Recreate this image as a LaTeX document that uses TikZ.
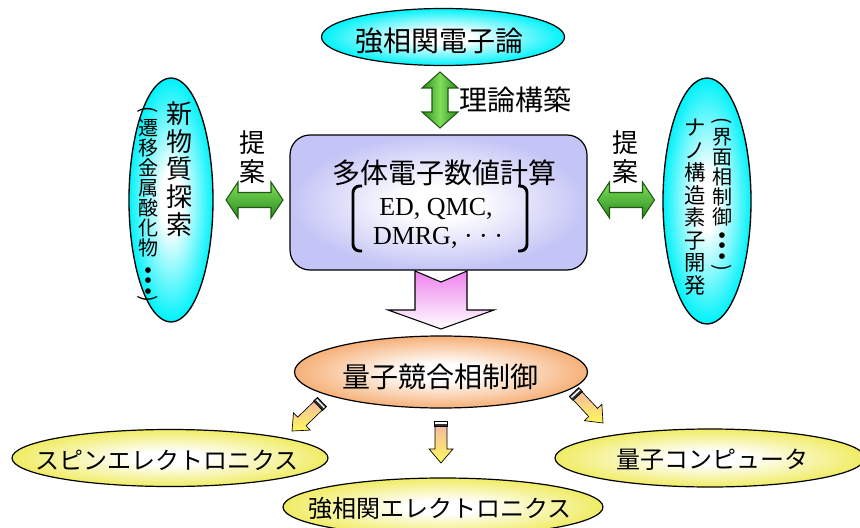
\documentclass[tikz,border=0pt]{standalone}
\usepackage{fontspec}
\setmainfont{Liberation Serif}
\newfontfamily\jp{Noto Sans CJK JP}
\newfontfamily\djv{DejaVu Sans}
\usetikzlibrary{shapes.geometric,calc}
\definecolor{cyanE}{RGB}{0,242,250}
\definecolor{lavE}{RGB}{196,196,246}
\definecolor{orgE}{RGB}{246,176,120}
\definecolor{yelE}{RGB}{240,236,100}
\definecolor{pinkT}{RGB}{238,130,238}
\definecolor{grnL}{RGB}{130,222,90}
\definecolor{grnD}{RGB}{40,140,30}
\definecolor{grnB}{RGB}{30,90,15}
\definecolor{peachS}{RGB}{246,186,160}
\definecolor{yelS}{RGB}{255,250,90}
\definecolor{capD}{RGB}{50,50,50}
\pgfdeclareradialshading{radcyan}{\pgfpoint{0bp}{0bp}}{color(0bp)=(white); color(6bp)=(white); color(25bp)=(cyanE); color(50bp)=(cyanE)}
\pgfdeclareradialshading{radlav}{\pgfpoint{0bp}{0bp}}{color(0bp)=(white); color(6bp)=(white); color(25bp)=(lavE); color(50bp)=(lavE)}
\pgfdeclareradialshading{radorg}{\pgfpoint{0bp}{0bp}}{color(0bp)=(white); color(6bp)=(white); color(25bp)=(orgE); color(50bp)=(orgE)}
\pgfdeclareradialshading{radyel}{\pgfpoint{0bp}{0bp}}{color(0bp)=(white); color(6bp)=(white); color(25bp)=(yelE); color(50bp)=(yelE)}
\newcommand\smallarr[2]{%
  \draw[line width=0.5pt, fill=capD] ($(#1)!4.9pt!90:(#2)$) -- ($(#1)!4.9pt!-90:(#2)$) -- ($($(#1)!4.1pt!(#2)$)!4.9pt!-90:(#2)$) -- ($($(#1)!4.1pt!(#2)$)!4.9pt!90:(#2)$) -- cycle;
  \fill[white] ($($(#1)!1.1pt!(#2)$)!4.2pt!90:(#2)$) -- ($($(#1)!1.1pt!(#2)$)!4.2pt!-90:(#2)$) -- ($($(#1)!2.2pt!(#2)$)!4.2pt!-90:(#2)$) -- ($($(#1)!2.2pt!(#2)$)!4.2pt!90:(#2)$) -- cycle;
  \draw[line width=0.5pt, top color=peachS, bottom color=yelS]
    ($($(#1)!4.1pt!(#2)$)!4.5pt!90:(#2)$) -- ($($(#1)!21pt!(#2)$)!4.5pt!90:(#2)$)
    -- ($($(#1)!21pt!(#2)$)!9pt!90:(#2)$) -- (#2)
    -- ($($(#1)!21pt!(#2)$)!9pt!-90:(#2)$) -- ($($(#1)!21pt!(#2)$)!4.5pt!-90:(#2)$)
    -- ($($(#1)!4.1pt!(#2)$)!4.5pt!-90:(#2)$) -- cycle;
}
\begin{document}
\begin{tikzpicture}[x=0.75pt,y=-0.75pt,
  ell/.style={ellipse, draw=black, line width=0.9pt, inner sep=0pt},
  jpA/.style={font=\jp\fontsize{21}{25}\selectfont, inner sep=0pt},
  jpB/.style={font=\jp\fontsize{18}{22}\selectfont, inner sep=0pt},
  serifT/.style={font=\fontsize{19.5}{23}\selectfont, inner sep=0pt},
  vmainL/.style={font=\jp\fontsize{19.5}{20.7}\selectfont, align=center, inner sep=0pt},
  vmainR/.style={font=\jp\fontsize{16}{16.9}\selectfont, align=center, inner sep=0pt},
  vsub/.style={font=\jp\fontsize{15}{15}\selectfont, align=center, inner sep=0pt},
  vdots/.style={font=\djv\fontsize{5.5}{7.9}\selectfont, align=center, inner sep=0pt},
  vparen/.style={font=\jp\fontsize{15}{15}\selectfont, inner sep=0pt, rotate=-90},
  teian/.style={font=\jp\fontsize{19.5}{21.75}\selectfont, align=center, inner sep=0pt},
  grn/.style={draw=grnB, line width=0.8pt, top color=grnL, bottom color=grnD},
  pics/hdbl/.style={code={
    \draw[grn] (-28.5,0) -- (-16.5,-18) -- (-16.5,-7.5) -- (16.5,-7.5) -- (16.5,-18) -- (28.5,0)
      -- (16.5,18) -- (16.5,7.5) -- (-16.5,7.5) -- (-16.5,18) -- cycle;}},
  pics/vdbl/.style={code={
    \draw[draw=grnB, line width=0.8pt, left color=grnD, right color=grnD, middle color=grnL]
      (0,-28) -- (18,-12) -- (8,-12) -- (8,12) -- (18,12) -- (0,28)
      -- (-18,12) -- (-8,12) -- (-8,-12) -- (-18,-12) -- cycle;}}
]
\useasboundingbox (0,0) rectangle (860,528);
\clip (0,0) rectangle (860,528);

% top ellipse
\node[ell, shading=radcyan, minimum width=243*0.75pt, minimum height=57*0.75pt] (theory) at (443,37) {};
\node[jpA] (theoryT) at (439,41) {強相関電子論};

% vertical green arrow and label
\pic at (440,100) {vdbl};
\node[jpA, anchor=west] (build) at (459,100) {理論構築};

% central box
\node[draw=black, line width=0.9pt, rounded corners=15pt, shading=radlav,
      minimum width=297*0.75pt, minimum height=135*0.75pt, inner sep=0pt] (calcbox) at (438.5,202.5) {};
\node[jpA] (calcT) at (444,173) {多体電子数値計算};
\node[serifT] (ed) at (436,209) {ED, QMC,};
\node[serifT] (dmrg) at (438,238) {DMRG, · · ·};
\draw[line width=2.2pt, rounded corners=5pt] (362,186) -- (353,186) -- (353,251) -- (362,251);
\draw[line width=2.2pt, rounded corners=5pt] (518,186) -- (527,186) -- (527,251) -- (518,251);

% side ellipses
\node[ell, line width=1pt, shading=radcyan, minimum width=84*0.75pt, minimum height=244*0.75pt] (newmat) at (171,200) {};
\node[vmainL] (newmatT) at (179,169) {新\\物\\質\\探\\索};
\node[vparen] (lpo) at (148,110) {(};
\node[vsub] (newmatS) at (148,188) {遷\\移\\金\\属\\酸\\化\\物};
\node[vdots] (ldots) at (148,281) {●\\●\\●};
\node[vparen] (lpc) at (148,299) {)};

\node[ell, line width=1pt, shading=radcyan, minimum width=88*0.75pt, minimum height=246*0.75pt] (nano) at (707,201) {};
\node[vmainR] (nanoT) at (695,207) {ナ\\ノ\\構\\造\\素\\子\\開\\発};
\node[vparen] (rpo) at (722,121) {(};
\node[vsub] (nanoS) at (722,177) {界\\面\\相\\制\\御};
\node[vdots] (rdots) at (722,246) {●\\●\\●};
\node[vparen] (rpc) at (722,268) {)};

% proposal arrows
\node[teian] (propL) at (252,157.5) {提\\案};
\node[teian] (propR) at (625,157.5) {提\\案};
\pic at (254.5,200) {hdbl};
\pic at (626,200) {hdbl};

% pink arrow
\draw[line width=0.8pt, top color=pinkT, bottom color=white]
  (415,271) -- (441,282) -- (467,271) -- (467,310) -- (494,310) -- (441,329) -- (388,310) -- (415,310) -- cycle;

% quantum control ellipse
\node[ell, shading=radorg, minimum width=293*0.75pt, minimum height=72*0.75pt] (ctrl) at (441,372) {};
\node[jpA] (ctrlT) at (440,377) {量子競合相制御};

% small arrows
\coordinate (la-t) at (322,402); \coordinate (la-h) at (292,431);
\coordinate (ma-t) at (441,421); \coordinate (ma-h) at (441,463);
\coordinate (ra-t) at (574,392); \coordinate (ra-h) at (603,423);
\smallarr{la-t}{la-h}
\smallarr{ma-t}{ma-h}
\smallarr{ra-t}{ra-h}

% bottom ellipses
\node[ell, shading=radyel, minimum width=316*0.75pt, minimum height=57*0.75pt] (spin) at (170,458) {};
\node[jpB] (spinT) at (167,460) {スピンエレクトロニクス};
\node[ell, shading=radyel, minimum width=310*0.75pt, minimum height=58*0.75pt] (qc) at (710,458) {};
\node[jpB] (qcT) at (712,460) {量子コンピュータ};
\node[ell, shading=radyel, minimum width=320*0.75pt, minimum height=58*0.75pt] (sce) at (443,507) {};
\node[jpB] (sceT) at (440,508) {強相関エレクトロニクス};
\end{tikzpicture}
\end{document}
